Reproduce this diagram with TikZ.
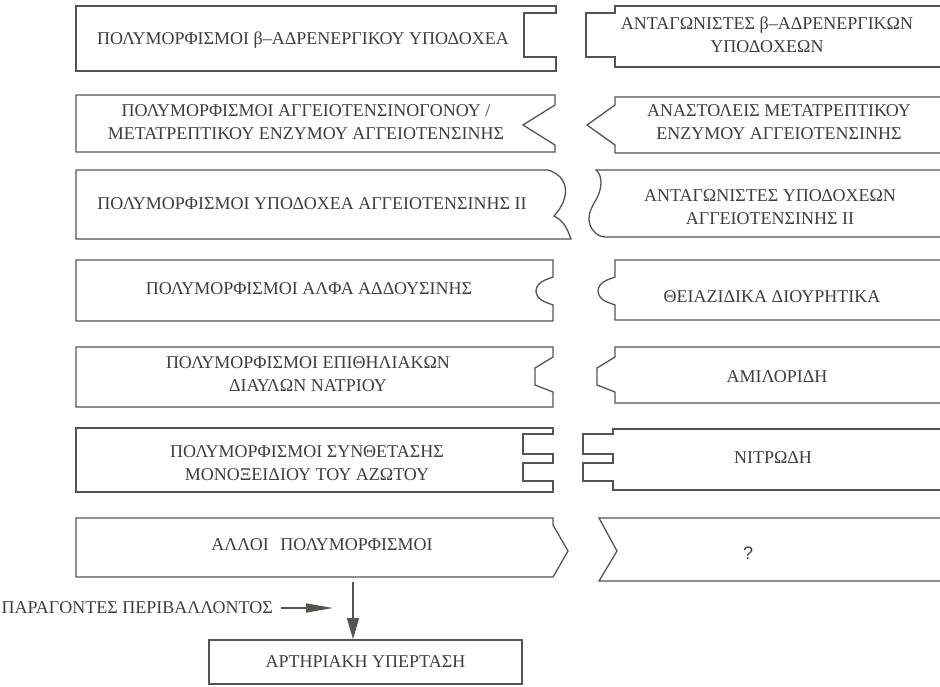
\documentclass[tikz,border=0pt]{standalone}
\usepackage{fontspec}
\setmainfont{Liberation Serif}
\newfontfamily\qfont{Liberation Sans}
\usetikzlibrary{arrows.meta}
\definecolor{ink}{RGB}{85,85,80}
\definecolor{txt}{RGB}{62,62,58}
\begin{document}
\begin{tikzpicture}[x=1pt,y=-1pt,
  piece/.style={draw=ink,line width=1.3pt,line join=miter},
  lbl/.style={text=txt,font=\fontsize{18}{23}\selectfont,align=center,inner sep=0pt},
  arr/.style={draw=ink,line width=1.4pt}]
\fill[white] (0,0) rectangle (940,686);
\useasboundingbox (0,0) rectangle (940,686);

% row 1
\draw[piece] (76,6) -- (556,6) -- (556,13) -- (524,13) -- (524,57) -- (556,57) -- (556,71) -- (76,71) -- cycle;
\draw[piece] (940,6) -- (615,6) -- (615,13) -- (586,13) -- (586,57) -- (615,57) -- (615,67) -- (940,67);
% row 2
\draw[piece] (76,95) -- (555,95) -- (555,105) -- (523,125) -- (555,145) -- (555,152) -- (76,152) -- cycle;
\draw[piece] (940,97) -- (615,97) -- (615,105) -- (587,125) -- (615,145) -- (615,153) -- (940,153);
% row 3
\draw[piece] (76,170) -- (548,170) .. controls (568,176) and (572,196) .. (554,216)
  .. controls (566,222) and (568,232) .. (571,239) -- (76,239) -- cycle;
\draw[piece] (940,170) -- (596,170) .. controls (603,176) and (602,188) .. (597,198)
  .. controls (591,208) and (587,216) .. (590,225) .. controls (593,232) and (598,237) .. (606,237) -- (940,237);
% row 4
\draw[piece] (76,260) -- (553,260) -- (553,277) -- (545,280) .. controls (533,285) and (533,297) .. (545,302) -- (553,305) -- (553,321) -- (76,321) -- cycle;
\draw[piece] (940,260) -- (615,260) -- (615,277) -- (607,280) .. controls (595,285) and (595,297) .. (607,302) -- (615,305) -- (615,320) -- (940,320);
% row 5
\draw[piece] (76,347) -- (553,347) -- (553,357) -- (535,368) -- (535,385) -- (553,392) -- (553,407) -- (76,407) -- cycle;
\draw[piece] (940,347) -- (615,347) -- (615,357) -- (597,368) -- (597,385) -- (615,392) -- (615,403) -- (940,403);
% row 6
\draw[piece] (76,428) -- (553,428) -- (553,434) -- (523,434) -- (523,454) -- (553,454) -- (553,463) -- (523,463) -- (523,481) -- (553,481) -- (553,492) -- (76,492) -- cycle;
\draw[piece] (940,429) -- (613,429) -- (613,434) -- (583,434) -- (583,454) -- (613,454) -- (613,463) -- (583,463) -- (583,481) -- (613,481) -- (613,490) -- (940,490);
% row 7
\draw[piece] (76,518) -- (553,518) -- (553,525) -- (568,551) -- (553,577) -- (76,577) -- cycle;
\draw[piece] (940,518) -- (599,518) -- (617,551) -- (599,581) -- (940,581);

% texts
\node[lbl] (l1) at (303,40) {ΠΟΛΥΜΟΡΦΙΣΜΟΙ β–ΑΔΡΕΝΕΡΓΙΚΟΥ ΥΠΟΔΟΧΕΑ};
\node[lbl] (r1) at (767,35) {ΑΝΤΑΓΩΝΙΣΤΕΣ β–ΑΔΡΕΝΕΡΓΙΚΩΝ\\ΥΠΟΔΟΧΕΩΝ};
\node[lbl] (l2) at (306,122) {ΠΟΛΥΜΟΡΦΙΣΜΟΙ ΑΓΓΕΙΟΤΕΝΣΙΝΟΓΟΝΟΥ /\\ΜΕΤΑΤΡΕΠΤΙΚΟΥ ΕΝΖΥΜΟΥ ΑΓΓΕΙΟΤΕΝΣΙΝΗΣ};
\node[lbl] (r2) at (779,122) {ΑΝΑΣΤΟΛΕΙΣ ΜΕΤΑΤΡΕΠΤΙΚΟΥ\\ΕΝΖΥΜΟΥ ΑΓΓΕΙΟΤΕΝΣΙΝΗΣ};
\node[lbl] (l3) at (312,204) {ΠΟΛΥΜΟΡΦΙΣΜΟΙ ΥΠΟΔΟΧΕΑ ΑΓΓΕΙΟΤΕΝΣΙΝΗΣ ΙΙ};
\node[lbl] (r3) at (770,207) {ΑΝΤΑΓΩΝΙΣΤΕΣ ΥΠΟΔΟΧΕΩΝ\\ΑΓΓΕΙΟΤΕΝΣΙΝΗΣ ΙΙ};
\node[lbl] (l4) at (309,289) {ΠΟΛΥΜΟΡΦΙΣΜΟΙ ΑΛΦΑ ΑΔΔΟΥΣΙΝΗΣ};
\node[lbl] (r4) at (772,297) {ΘΕΙΑΖΙΔΙΚΑ ΔΙΟΥΡΗΤΙΚΑ};
\node[lbl] (l5) at (308,374) {ΠΟΛΥΜΟΡΦΙΣΜΟΙ ΕΠΙΘΗΛΙΑΚΩΝ\\ΔΙΑΥΛΩΝ ΝΑΤΡΙΟΥ};
\node[lbl] (r5) at (777,377) {ΑΜΙΛΟΡΙΔΗ};
\node[lbl] (l6) at (307,463) {ΠΟΛΥΜΟΡΦΙΣΜΟΙ ΣΥΝΘΕΤΑΣΗΣ\\ΜΟΝΟΞΕΙΔΙΟΥ ΤΟΥ ΑΖΩΤΟΥ};
\node[lbl] (r6) at (773,458) {ΝΙΤΡΩΔΗ};
\node[lbl] (l7) at (322,545) {ΑΛΛΟΙ\hspace{0.4em} ΠΟΛΥΜΟΡΦΙΣΜΟΙ};
\node[lbl,font=\qfont\fontsize{18}{20}\selectfont] (r7) at (748,553) {?};

\node[lbl,anchor=east] (env) at (273,608) {ΠΑΡΑΓΟΝΤΕΣ ΠΕΡΙΒΑΛΛΟΝΤΟΣ};
\node[lbl,draw=ink,line width=1.8pt,minimum width=313pt,minimum height=44pt] (ht) at (365.5,662) {ΑΡΤΗΡΙΑΚΗ ΥΠΕΡΤΑΣΗ};

\coordinate (src) at (353,582);
\coordinate (hit) at (333,608);
\draw[arr,-{Triangle[length=21pt,width=12pt]}] (src) -- (ht.north -| src);
\draw[arr,-{Triangle[length=27pt,width=9pt]}] (env.east) ++(8,0) -- (hit);
\end{tikzpicture}
\end{document}
